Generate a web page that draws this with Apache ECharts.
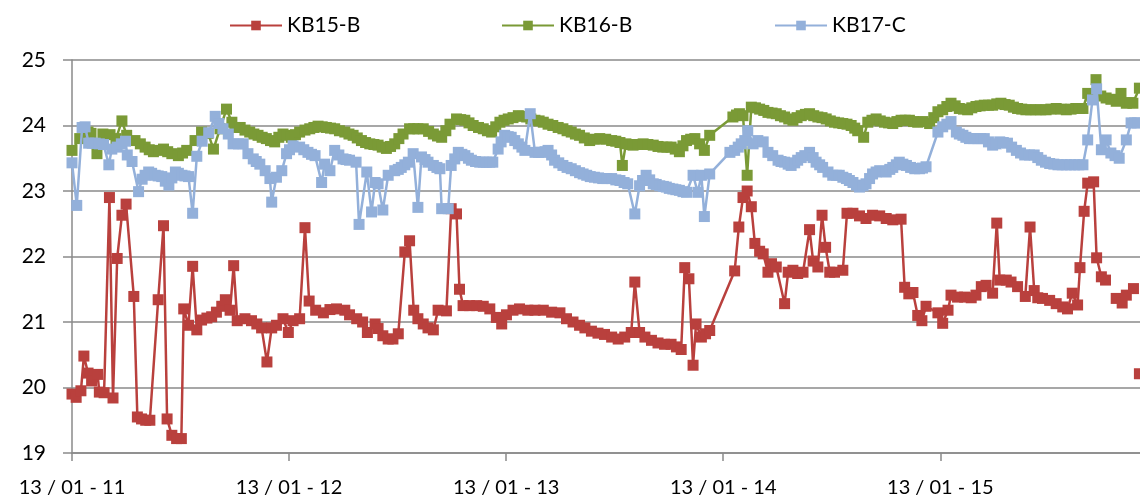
<!DOCTYPE html>
<html>
<head>
<meta charset="utf-8">
<script src="https://cdn.jsdelivr.net/npm/echarts@6/dist/echarts.min.js"></script>
<style>
  html, body { margin: 0; padding: 0; background: #fff; }
  #chart { width: 1140px; height: 499px; }
</style>
</head>
<body>
<div id="chart"></div>
<script>
// x = days since 13/01/2011, y = reading
const seriesNames = ['KB15-B', 'KB16-B', 'KB17-C']
const yearTicks = ['13 / 01 - 11', '13 / 01 - 12', '13 / 01 - 13', '13 / 01 - 14', '13 / 01 - 15']

const kb15 = [[0,19.90],[7,19.85],[15,19.95],[20,20.48],[27,20.22],[33,20.10],[43,20.20],[46,19.93],[54,19.92],[63,22.90],[69,19.84],[76,21.97],[84,22.63],[91,22.80],[104,21.39],[110,19.55],[117,19.52],[124,19.50],[131,19.50],[145,21.34],[154,22.47],[160,19.52],[168,19.27],[176,19.22],[184,19.22],[188,21.20],[196,20.95],[203,21.85],[210,20.88],[218,21.03],[227,21.06],[235,21.08],[243,21.15],[252,21.24],[258,21.34],[266,21.18],[272,21.86],[278,21.02],[291,21.05],[302,21.02],[311,20.97],[319,20.91],[328,20.39],[336,20.91],[344,20.95],[355,21.05],[364,20.84],[372,21.02],[383,21.05],[392,22.44],[399,21.32],[410,21.18],[423,21.14],[434,21.19],[445,21.20],[459,21.18],[467,21.11],[479,21.05],[489,21.00],[497,20.84],[510,20.97],[515,20.90],[523,20.79],[532,20.74],[540,20.74],[549,20.82],[560,22.07],[568,22.24],[575,21.18],[582,21.05],[591,20.97],[599,20.91],[608,20.88],[616,21.18],[630,21.17],[638,22.73],[647,22.65],[652,21.50],[658,21.25],[669,21.25],[681,21.25],[692,21.24],[703,21.20],[714,21.07],[723,20.97],[731,21.11],[742,21.18],[753,21.20],[767,21.18],[779,21.18],[793,21.18],[807,21.15],[821,21.14],[832,21.05],[843,21.00],[854,20.95],[863,20.91],[874,20.86],[885,20.83],[896,20.81],[908,20.77],[919,20.74],[930,20.77],[941,20.84],[947,21.61],[955,20.84],[964,20.77],[975,20.72],[986,20.68],[997,20.66],[1008,20.66],[1017,20.62],[1025,20.58],[1031,21.83],[1038,21.66],[1045,20.34],[1050,20.97],[1059,20.77],[1066,20.82],[1073,20.87],[1115,21.78],[1122,22.45],[1129,22.90],[1136,23.00],[1143,22.76],[1149,22.20],[1157,22.08],[1163,22.04],[1171,21.76],[1177,21.89],[1185,21.84],[1199,21.28],[1205,21.76],[1213,21.79],[1221,21.74],[1230,21.76],[1241,22.41],[1247,21.93],[1255,21.84],[1262,22.63],[1268,22.14],[1275,21.76],[1283,21.76],[1297,21.79],[1304,22.66],[1314,22.66],[1325,22.62],[1336,22.58],[1347,22.63],[1359,22.62],[1370,22.58],[1381,22.56],[1395,22.57],[1401,21.53],[1408,21.43],[1415,21.45],[1423,21.10],[1430,21.02],[1437,21.24],[1457,21.14],[1465,20.98],[1474,21.18],[1479,21.41],[1490,21.38],[1502,21.38],[1513,21.37],[1521,21.41],[1530,21.54],[1538,21.56],[1549,21.44],[1556,22.51],[1561,21.64],[1572,21.64],[1580,21.61],[1591,21.54],[1604,21.39],[1612,22.45],[1619,21.48],[1625,21.37],[1633,21.36],[1645,21.33],[1656,21.28],[1667,21.23],[1675,21.20],[1683,21.44],[1692,21.26],[1696,21.83],[1703,22.69],[1709,23.12],[1719,23.14],[1724,21.98],[1732,21.69],[1739,21.64],[1748,null],[1757,21.36],[1767,21.29],[1774,21.41],[1786,21.51],[1791,null],[1796,20.21]]

const kb16 = [[0,23.62],[13,23.80],[27,23.90],[32,23.88],[42,23.57],[52,23.87],[64,23.86],[74,23.80],[84,24.07],[92,23.85],[106,23.77],[115,23.72],[123,23.67],[130,23.63],[137,23.60],[146,23.62],[154,23.64],[161,23.60],[168,23.57],[179,23.54],[186,23.58],[193,23.62],[207,23.77],[218,23.90],[229,23.88],[238,23.64],[249,23.95],[260,24.25],[269,24.05],[274,23.97],[283,23.97],[291,23.93],[299,23.90],[306,23.87],[313,23.85],[320,23.82],[327,23.80],[334,23.77],[341,23.75],[348,23.82],[355,23.87],[362,23.85],[369,23.82],[376,23.86],[383,23.90],[392,23.93],[400,23.95],[407,23.97],[414,23.99],[421,23.98],[428,23.97],[435,23.96],[442,23.95],[450,23.92],[459,23.90],[466,23.87],[473,23.85],[480,23.81],[487,23.77],[494,23.74],[501,23.72],[508,23.71],[515,23.70],[522,23.67],[529,23.65],[536,23.68],[543,23.72],[550,23.80],[557,23.87],[568,23.95],[575,23.95],[582,23.95],[591,23.95],[600,23.91],[608,23.87],[615,23.84],[622,23.82],[629,23.92],[636,24.02],[647,24.10],[654,24.09],[661,24.08],[668,24.04],[675,24.00],[684,23.97],[692,23.95],[699,23.92],[706,23.90],[713,23.98],[720,24.05],[727,24.08],[734,24.10],[742,24.12],[751,24.15],[758,24.14],[765,24.13],[772,24.10],[779,24.08],[786,24.07],[793,24.05],[801,24.02],[809,24.00],[818,23.97],[826,23.95],[833,23.92],[840,23.90],[847,23.87],[854,23.85],[862,23.81],[871,23.77],[879,23.79],[888,23.80],[898,23.79],[908,23.77],[915,23.76],[922,23.74],[926,23.39],[932,23.72],[938,23.71],[944,23.70],[952,23.71],[961,23.72],[969,23.71],[978,23.70],[986,23.68],[994,23.67],[1001,23.67],[1008,23.67],[1015,23.64],[1022,23.60],[1028,23.69],[1034,23.77],[1041,23.79],[1048,23.80],[1056,23.72],[1064,23.62],[1073,23.85],[1112,24.13],[1118,24.16],[1123,24.18],[1129,24.15],[1136,23.24],[1143,24.28],[1150,24.27],[1157,24.25],[1164,24.23],[1171,24.20],[1178,24.19],[1185,24.18],[1192,24.15],[1199,24.13],[1206,24.10],[1213,24.08],[1220,24.12],[1227,24.15],[1234,24.17],[1241,24.18],[1248,24.15],[1255,24.13],[1262,24.12],[1269,24.10],[1276,24.07],[1283,24.05],[1290,24.04],[1297,24.03],[1304,24.02],[1311,24.00],[1317,23.96],[1322,23.92],[1332,23.82],[1339,24.05],[1346,24.08],[1353,24.10],[1360,24.07],[1367,24.05],[1374,24.04],[1381,24.03],[1388,24.06],[1395,24.08],[1402,24.08],[1409,24.08],[1416,24.06],[1423,24.05],[1432,24.06],[1443,24.03],[1450,24.12],[1457,24.21],[1465,24.24],[1472,24.29],[1479,24.34],[1486,24.30],[1493,24.26],[1500,24.25],[1507,24.24],[1514,24.27],[1521,24.29],[1528,24.30],[1535,24.31],[1542,24.31],[1549,24.31],[1556,24.33],[1563,24.34],[1570,24.32],[1577,24.31],[1584,24.28],[1591,24.26],[1598,24.25],[1605,24.24],[1613,24.24],[1622,24.24],[1630,24.24],[1639,24.24],[1647,24.25],[1656,24.26],[1664,24.25],[1673,24.24],[1681,24.25],[1689,24.26],[1695,24.26],[1701,24.26],[1709,24.49],[1716,24.45],[1723,24.70],[1731,24.45],[1740,24.42],[1748,24.40],[1757,24.37],[1765,24.49],[1774,24.34],[1780,24.35],[1785,24.34],[1796,24.57]]

const kb17 = [[0,23.43],[8,22.78],[17,23.97],[22,23.98],[28,23.73],[34,23.73],[39,23.73],[46,23.72],[53,23.71],[62,23.40],[67,23.64],[76,23.67],[83,23.72],[90,23.76],[93,23.55],[101,23.45],[112,22.99],[118,23.18],[123,23.24],[129,23.29],[134,23.27],[140,23.24],[145,23.23],[151,23.22],[157,23.15],[163,23.09],[168,23.20],[174,23.29],[179,23.27],[185,23.24],[190,23.23],[196,23.22],[203,22.66],[210,23.53],[219,23.76],[230,23.89],[241,24.14],[247,24.03],[254,23.95],[263,23.87],[271,23.72],[280,23.72],[288,23.72],[296,23.57],[305,23.49],[310,23.45],[316,23.41],[325,23.31],[333,23.19],[336,22.83],[344,23.21],[353,23.31],[361,23.57],[366,23.63],[372,23.69],[383,23.67],[390,23.63],[397,23.59],[403,23.56],[409,23.54],[420,23.13],[425,23.41],[434,23.31],[442,23.62],[449,23.55],[456,23.49],[461,23.48],[467,23.47],[478,23.44],[483,22.49],[496,23.29],[504,22.68],[510,23.13],[515,23.11],[523,22.71],[532,23.24],[543,23.31],[549,23.33],[554,23.36],[560,23.40],[566,23.44],[574,23.57],[582,22.75],[588,23.52],[594,23.48],[599,23.44],[608,23.39],[614,23.36],[619,23.34],[622,22.73],[633,22.73],[638,23.39],[644,23.49],[650,23.59],[656,23.56],[661,23.54],[667,23.50],[672,23.47],[679,23.45],[686,23.44],[692,23.44],[697,23.44],[703,23.44],[708,23.44],[717,23.64],[722,23.75],[728,23.85],[734,23.83],[739,23.82],[745,23.77],[751,23.72],[757,23.67],[762,23.62],[771,24.18],[779,23.59],[785,23.59],[790,23.59],[796,23.60],[801,23.62],[807,23.55],[812,23.47],[819,23.43],[826,23.39],[833,23.36],[840,23.34],[847,23.31],[854,23.28],[860,23.26],[866,23.24],[872,23.22],[879,23.21],[886,23.20],[893,23.19],[900,23.19],[908,23.19],[915,23.17],[922,23.16],[929,23.13],[935,23.11],[947,22.65],[955,23.08],[960,23.16],[966,23.24],[972,23.17],[978,23.11],[983,23.10],[989,23.08],[995,23.07],[1000,23.06],[1005,23.04],[1011,23.03],[1016,23.02],[1022,23.01],[1028,22.99],[1034,22.98],[1045,23.24],[1053,22.98],[1059,23.24],[1064,22.61],[1073,23.26],[1107,23.59],[1115,23.62],[1121,23.67],[1126,23.72],[1132,23.77],[1137,23.92],[1146,23.72],[1154,23.77],[1163,23.75],[1171,23.59],[1179,23.54],[1188,23.47],[1193,23.45],[1199,23.44],[1205,23.41],[1210,23.39],[1216,23.43],[1221,23.47],[1227,23.51],[1233,23.54],[1241,23.59],[1247,23.51],[1252,23.44],[1258,23.40],[1263,23.36],[1272,23.29],[1280,23.24],[1286,23.24],[1291,23.24],[1297,23.21],[1303,23.19],[1308,23.16],[1314,23.13],[1320,23.09],[1325,23.06],[1331,23.08],[1336,23.11],[1342,23.19],[1347,23.26],[1353,23.29],[1359,23.31],[1365,23.30],[1370,23.29],[1376,23.33],[1381,23.36],[1387,23.40],[1392,23.44],[1398,23.41],[1404,23.39],[1411,23.36],[1418,23.34],[1426,23.34],[1431,23.35],[1437,23.37],[1457,23.90],[1465,23.98],[1472,24.02],[1479,24.06],[1488,23.90],[1493,23.87],[1499,23.85],[1504,23.82],[1510,23.80],[1517,23.80],[1524,23.80],[1529,23.80],[1535,23.80],[1542,23.75],[1549,23.70],[1555,23.72],[1561,23.75],[1567,23.74],[1574,23.73],[1581,23.67],[1589,23.62],[1596,23.58],[1603,23.55],[1611,23.55],[1619,23.55],[1625,23.51],[1631,23.47],[1638,23.44],[1645,23.42],[1652,23.41],[1659,23.40],[1666,23.40],[1673,23.40],[1680,23.40],[1687,23.40],[1694,23.40],[1701,23.40],[1709,23.78],[1717,24.39],[1724,24.56],[1732,23.63],[1740,23.78],[1748,23.58],[1755,23.54],[1762,23.50],[1774,23.78],[1782,24.04],[1788,24.04],[1793,24.04]]

const colors = ['#B9403D', '#7A9A36', '#93B0DA']
const fontFamily = 'Lato, "Open Sans", sans-serif'

const mChart = echarts.init(document.getElementById('chart'))

const legendLefts = [224, 496, 769]
const legends = seriesNames.map((name, i) => ({
    data: [name],
    left: legendLefts[i],
    top: 10,
    itemWidth: 52,
    itemHeight: 12,
    itemGap: 0,
    textStyle: {
        color: '#000',
        fontSize: 21,
        fontFamily: fontFamily
    }
}))

const option = {
    animation: false,
    color: colors,
    legend: legends,
    grid: {
        left: 72,
        right: 0,
        top: 60,
        bottom: 46,
        containLabel: false
    },
    // x 轴
    xAxis: {
        type: 'value',
        min: 0,
        max: 1797,
        interval: 365.25,
        axisLine: {
            show: true,
            lineStyle: { color: '#8a8a8a', width: 1.5 }
        },
        axisTick: {
            show: true,
            length: 8,
            lineStyle: { color: '#8a8a8a', width: 1.5 }
        },
        axisLabel: {
            color: '#000',
            fontSize: 20,
            fontFamily: fontFamily,
            margin: 25,
            showMaxLabel: false,
            formatter: function (v) {
                return yearTicks[Math.round(v / 365.25)] || ''
            }
        },
        splitLine: { show: false }
    },
    // y 轴
    yAxis: {
        type: 'value',
        min: 19,
        max: 25,
        interval: 1,
        axisLine: {
            show: true,
            lineStyle: { color: '#8a8a8a', width: 1.5 }
        },
        axisTick: {
            show: true,
            length: 9,
            lineStyle: { color: '#8a8a8a', width: 1.5 }
        },
        axisLabel: {
            color: '#000',
            fontSize: 21,
            fontFamily: fontFamily,
            margin: 26
        },
        splitLine: {
            lineStyle: { color: '#8a8a8a', width: 1.5 }
        }
    },
    series: [kb15, kb16, kb17].map((data, i) => ({
        name: seriesNames[i],
        type: 'line',
        data: data,
        symbol: 'rect',
        symbolSize: 11,
        connectNulls: false,
        lineStyle: { width: 2.5 },
        itemStyle: { color: colors[i] },
        z: 2 + i
    }))
}

mChart.setOption(option)
window.addEventListener('resize', function () {
    mChart.resize()
})
</script>
</body>
</html>
